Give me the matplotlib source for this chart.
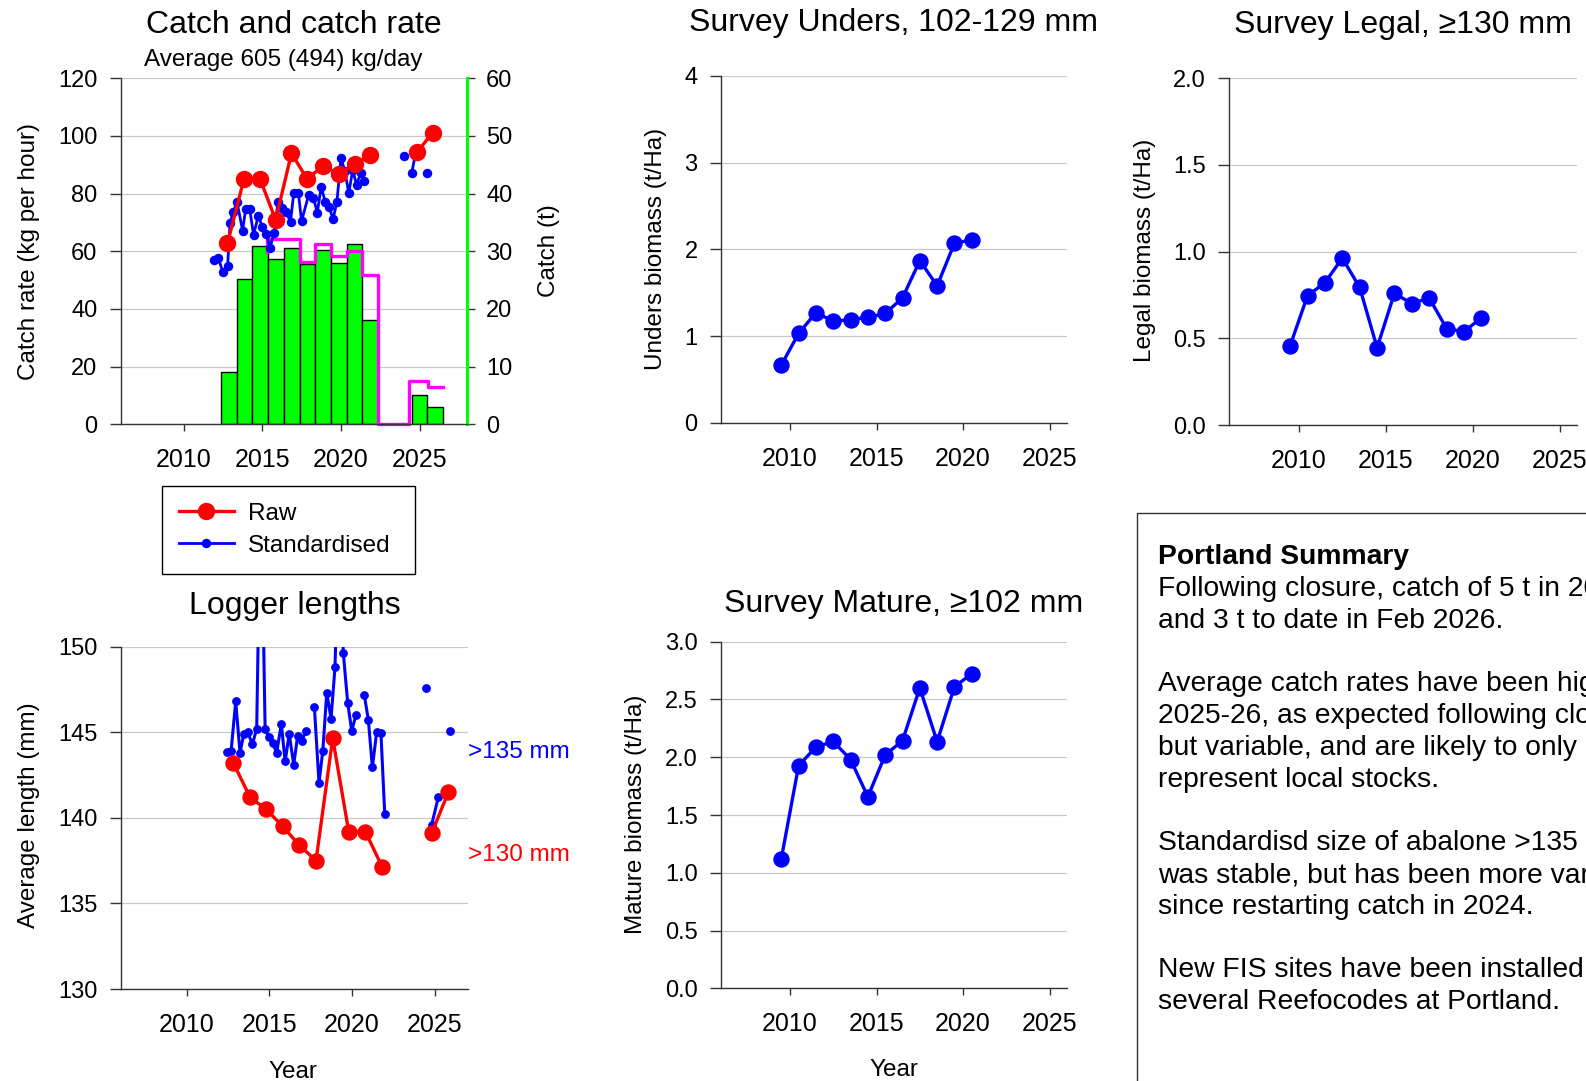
import numpy as np
import matplotlib.pyplot as plt
from matplotlib.ticker import MultipleLocator, FormatStrFormatter
from matplotlib.lines import Line2D
from matplotlib.patches import Rectangle

plt.rcParams['font.family'] = ['Liberation Sans', 'DejaVu Sans']

W, H = 1586, 1081
nan = np.nan

# catch (t) by fishing year
catch_year = [2012.87, 2013.87, 2014.87, 2015.87, 2016.87, 2017.87, 2018.87,
              2019.87, 2020.87, 2021.87, 2025.0, 2026.0]
catch_t = [9.0, 25.2, 30.9, 28.7, 30.5, 27.8, 30.2, 28.0, 31.2, 18.1, 5.0, 3.0]

# TACC step line (t)
tacc_x = [2015.33, 2015.33, 2017.37, 2018.38, 2019.34, 2020.38, 2021.37,
          2022.38, 2024.3, 2025.53, 2026.52]
tacc_t = [29.9, 32.1, 28.1, 31.2, 29.1, 30.1, 25.9, 0.0, 7.5, 6.5, 6.5]

# raw catch rate (kg/hr)
raw_year = [2012.79, 2013.84, 2014.86, 2015.85, 2016.86, 2017.86, 2018.85,
            2019.87, 2020.88, 2021.87, 2023.0, 2024.83, 2025.84]
raw_rate = [62.8, 85.1, 85.1, 70.9, 94.0, 85.0, 89.6, 86.7, 90.3, 93.4, nan,
            94.3, 101.2]

# standardised catch rate (kg/hr), quarterly
std_year = [2011.95, 2012.2, 2012.5, 2012.8, 2012.95, 2013.15, 2013.4, 2013.75,
            2013.95, 2014.2, 2014.45, 2014.75, 2015.0, 2015.25, 2015.5, 2015.75,
            2016.0, 2016.25, 2016.5, 2016.8, 2017.0, 2017.3, 2017.5, 2017.95,
            2018.25, 2018.5, 2018.75, 2019.0, 2019.25, 2019.5, 2019.75, 2020.0,
            2020.25, 2020.5, 2020.75, 2021.0, 2021.25, 2021.5, 2022.7, 2024.0,
            2024.2, 2024.5, 2024.8, 2025.1, 2025.5]
std_rate = [57.0, 57.8, 52.7, 55.0, 69.7, 73.7, 77.0, 67.2, 74.7, 74.7, 65.7,
            72.4, 68.5, 66.0, 61.3, 66.5, 77.0, 74.9, 73.7, 70.3, 80.1, 80.1,
            70.5, 79.5, 78.6, 73.4, 82.4, 77.2, 75.5, 71.1, 77.2, 92.3, 88.0,
            80.1, 88.2, 83.0, 87.1, 84.5, nan, 93.1, nan, 87.1, 95.3, nan, 87.1]

# logger lengths (mm)
len_std_year = [2012.42, 2012.68, 2012.96, 2013.22, 2013.45, 2013.69, 2013.97,
                2014.23, 2014.48, 2014.74, 2014.97, 2015.2, 2015.44, 2015.72,
                2015.95, 2016.2, 2016.47, 2016.71, 2016.96, 2017.22, 2017.47,
                2017.72, 2018.0, 2018.23, 2018.47, 2018.73, 2018.97, 2019.22,
                2019.47, 2019.74, 2019.98, 2020.24, 2020.5, 2020.74, 2020.99,
                2021.23, 2021.49, 2021.75, 2021.98, 2023.0, 2024.48, 2024.6,
                2024.82, 2025.22, 2025.6, 2025.95]
len_std_mm = [143.86, 143.9, 146.8, 143.8, 144.9, 145.0, 144.3, 145.2, 160.0,
              145.2, 144.7, 144.35, 143.8, 145.5, 143.3, 144.9, 143.1, 144.8,
              144.5, 145.1, nan, 146.5, 142.05, 143.9, 147.3, 145.8, 148.8,
              158.0, 149.65, 146.7, 145.1, 146.0, nan, 147.2, 145.7, 142.95,
              145.0, 144.95, 140.2, nan, 147.6, nan, 139.6, 141.2, nan, 145.1]
len_raw_year = [2012.82, 2013.83, 2014.8, 2015.81, 2016.81, 2017.82, 2018.83,
                2019.8, 2020.8, 2021.82, 2023.0, 2024.82, 2025.83]
len_raw_mm = [143.2, 141.2, 140.5, 139.5, 138.4, 137.5, 144.65, 139.2, 139.2,
              137.15, nan, 139.1, 141.5]

# fishery independent survey biomass (t/Ha)
survey_year = [2009.5, 2010.5, 2011.5, 2012.5, 2013.5, 2014.5, 2015.5, 2016.5,
               2017.5, 2018.5, 2019.5, 2020.5]
unders = [0.665, 1.03, 1.27, 1.17, 1.19, 1.215, 1.26, 1.44, 1.87, 1.58, 2.07, 2.11]
legal = [0.458, 0.746, 0.821, 0.963, 0.794, 0.446, 0.76, 0.70, 0.733, 0.556,
         0.538, 0.619]
mature = [1.122, 1.927, 2.088, 2.137, 1.98, 1.658, 2.02, 2.143, 2.60, 2.134,
          2.61, 2.723]

year_ticks = [2010, 2015, 2020, 2025]

summary_lines = [
    "Portland Summary",
    "Following closure, catch of 5 t in 2025",
    "and 3 t to date in Feb 2026.",
    "",
    "Average catch rates have been high in",
    "2025-26, as expected following closure,",
    "but variable, and are likely to only",
    "represent local stocks.",
    "",
    "Standardisd size of abalone >135 mm",
    "was stable, but has been more variable",
    "since restarting catch in 2024.",
    "",
    "New FIS sites have been installed at",
    "several Reefocodes at Portland.",
]

BLUE = '#0000ff'
RED = '#ff0000'
GREEN = '#00ff00'
MAGENTA = '#ff00ff'
SPINE = '#333333'
GRID = '#c8c8c8'
YTICK_FS = 17
XTICK_FS = 18
LABEL_FS = 17.5
TITLE_FS = 23

fig = plt.figure(figsize=(W / 100, H / 100), dpi=100)


def px_axes(left, top, right, bottom):
    return fig.add_axes([left / W, 1 - bottom / H, (right - left) / W, (bottom - top) / H])


def style(ax):
    for s in ['top', 'right']:
        ax.spines[s].set_visible(False)
    for s in ['left', 'bottom']:
        ax.spines[s].set_color(SPINE)
        ax.spines[s].set_linewidth(1.0)
    ax.tick_params(axis='y', length=7.7, width=1.0, pad=9, labelsize=YTICK_FS,
                   color=SPINE)
    ax.tick_params(axis='x', length=5.3, width=1.0, pad=12, labelsize=XTICK_FS,
                   color=SPINE)
    ax.yaxis.grid(True, color=GRID, lw=0.9)
    ax.set_axisbelow(True)
    ax.set_xticks(year_ticks)


def ftext(x, y, s, rotation=0, **kw):
    # centre of the glyphs sits a little off the bbox centre
    if rotation:
        x += 3.5
    else:
        y += 3.0
    return fig.text(x / W, 1 - y / H, s, ha='center', va='center',
                    rotation=rotation, **kw)


# ---- catch and catch rate ----
ax_c = px_axes(120.7, 78.3, 466.7, 424.3)
ax_t = ax_c.twinx()
ax_c.set_zorder(ax_t.get_zorder() + 1)
ax_c.patch.set_visible(False)

ax_t.bar(catch_year, catch_t, width=1.0, color=GREEN, edgecolor='black',
         linewidth=1.0, zorder=2)
ax_t.plot(tacc_x, tacc_t, drawstyle='steps-post', color=MAGENTA, lw=2.4,
          zorder=3, clip_on=False)
ax_t.set_ylim(0, 60)
ax_t.yaxis.set_major_locator(MultipleLocator(10))
ax_t.yaxis.grid(True, color=GRID, lw=0.9, zorder=0)
ax_t.set_axisbelow(True)
for s in ['top', 'left', 'bottom']:
    ax_t.spines[s].set_visible(False)
ax_t.spines['right'].set_color(GREEN)
ax_t.spines['right'].set_linewidth(2.2)
ax_t.tick_params(axis='y', length=6, width=1.0, pad=8, labelsize=YTICK_FS,
                 color=SPINE)

ax_c.plot(std_year, std_rate, '-o', color=BLUE, lw=2.0, ms=5.8, zorder=4)
ax_c.plot(raw_year, raw_rate, '-o', color=RED, lw=2.4, ms=11.5, zorder=5)
style(ax_c)
ax_c.yaxis.grid(False)
ax_c.spines['right'].set_visible(False)
ax_c.set_xlim(2006, 2028)
ax_c.set_ylim(0, 120)
ax_c.yaxis.set_major_locator(MultipleLocator(20))

ftext(293.7, 22.3, "Catch and catch rate", fontsize=TITLE_FS)
ftext(283, 56.6, "Average 605 (494) kg/day", fontsize=LABEL_FS)
ftext(25.3, 251, "Catch rate (kg per hour)", fontsize=LABEL_FS, rotation=90)
ftext(546, 251, "Catch (t)", fontsize=LABEL_FS, rotation=90)

handles = [Line2D([], [], color=RED, lw=2.4, marker='o', ms=11.5),
           Line2D([], [], color=BLUE, lw=2.0, marker='o', ms=5.8)]
leg = fig.legend(handles, ['Raw', 'Standardised'], loc='upper left',
                 bbox_to_anchor=(161.8 / W, 1 - 569.5 / H, (414.7 - 161.8) / W,
                                 (569.5 - 485.5) / H),
                 mode='expand', borderaxespad=0, fontsize=LABEL_FS,
                 handlelength=2.25, handletextpad=0.6, labelspacing=0.42,
                 borderpad=0.7, fancybox=False, framealpha=1)
leg.get_frame().set_edgecolor('black')
leg.get_frame().set_linewidth(1.0)

# ---- logger lengths ----
ax_l = px_axes(120.7, 646.7, 467.7, 989)
style(ax_l)
ax_l.plot(len_std_year, len_std_mm, '-o', color=BLUE, lw=2.2, ms=5.3, zorder=3)
ax_l.plot(len_raw_year, len_raw_mm, '-o', color=RED, lw=2.4, ms=10.8, zorder=4)
ax_l.set_xlim(2006, 2027)
ax_l.set_ylim(130, 150)
ax_l.yaxis.set_major_locator(MultipleLocator(5))
ax_l.text(1.0, 143.85, ">135 mm", color=BLUE, fontsize=LABEL_FS, va='center',
          ha='left', transform=ax_l.get_yaxis_transform(), clip_on=False)
ax_l.text(1.0, 137.85, ">130 mm", color=RED, fontsize=LABEL_FS, va='center',
          ha='left', transform=ax_l.get_yaxis_transform(), clip_on=False)
ftext(294.9, 602.9, "Logger lengths", fontsize=TITLE_FS)
ftext(25.3, 815.5, "Average length (mm)", fontsize=LABEL_FS, rotation=90)
ftext(293.3, 1069, "Year", fontsize=LABEL_FS)


# ---- surveys ----
def survey(rect, values, top, step, title, title_xy, ylabel, ylabel_xy, fmt):
    ax = px_axes(*rect)
    style(ax)
    ax.plot(survey_year, values, '-o', color=BLUE, lw=2.4, ms=10.8, zorder=3)
    ax.set_xlim(2006, 2026)
    ax.set_ylim(0, top)
    ax.yaxis.set_major_locator(MultipleLocator(step))
    if fmt:
        ax.yaxis.set_major_formatter(FormatStrFormatter(fmt))
    ftext(*title_xy, title, fontsize=TITLE_FS)
    ftext(*ylabel_xy, ylabel, fontsize=LABEL_FS, rotation=90)
    return ax


survey((720.7, 76, 1067, 422.7), unders, 4, 1, "Survey Unders, 102-129 mm",
       (893.9, 20.2), "Unders biomass (t/Ha)", (652.4, 248.8), None)
survey((1229.3, 78.3, 1577, 425), legal, 2.0, 0.5, "Survey Legal, \u2265130 mm",
       (1403, 22.3), "Legal biomass (t/Ha)", (1141, 250.4), '%.1f')
survey((720.7, 641.7, 1067, 988.3), mature, 3.0, 0.5, "Survey Mature, \u2265102 mm",
       (904, 600.8), "Mature biomass (t/Ha)", (632.2, 814.8), '%.1f')
ftext(894, 1067, "Year", fontsize=LABEL_FS)

# ---- summary box ----
fig.patches.append(Rectangle((1137 / W, -0.05), 0.5, 1 - 513 / H + 0.05,
                             transform=fig.transFigure, fill=False,
                             edgecolor=SPINE, lw=1.0))
for i, line in enumerate(summary_lines):
    fig.text(1158 / W, 1 - (564 + i * 31.8) / H, line, fontsize=20.3,
             ha='left', va='baseline', weight='bold' if i == 0 else 'normal')

fig.savefig('out.png', dpi=100)
